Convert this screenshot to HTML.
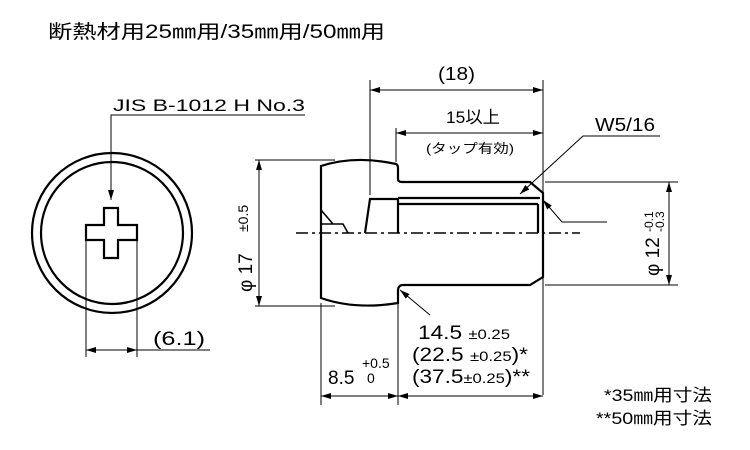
<!DOCTYPE html>
<html><head><meta charset="utf-8"><style>
body{margin:0;background:#fff;width:750px;height:450px;overflow:hidden}
svg{display:block}
text{font-family:"Liberation Sans","Noto Sans CJK JP",sans-serif;fill:#000}
</style></head><body>
<svg width="750" height="450" viewBox="0 0 750 450" xmlns="http://www.w3.org/2000/svg">
<defs>
<marker id="a" viewBox="0 0 10 6" refX="10" refY="3" markerWidth="10" markerHeight="6" orient="auto-start-reverse" markerUnits="userSpaceOnUse"><path d="M0,0L10,3L0,6z"/></marker>
</defs>
<text x="48" y="38" font-size="19" textLength="337" lengthAdjust="spacingAndGlyphs">断熱材用25㎜用/35㎜用/50㎜用</text>
<g fill="none" stroke="#000">
<circle cx="112" cy="233" r="80" stroke-width="2.2"/>
<circle cx="112" cy="233" r="71" stroke-width="2.2"/>
<path d="M104,208H118V225H137V240H118V258H104V240H86V225H104Z" stroke-width="2.2"/>
<path d="M305,115H111V200" stroke-width="1" marker-end="url(#a)"/>
<path d="M86,240V357M137,240V357" stroke-width="1"/>
<path d="M86,350H137" stroke-width="1" marker-start="url(#a)" marker-end="url(#a)"/>
<path d="M137,350H210" stroke-width="1"/>
</g>
<text x="113" y="111" font-size="17" textLength="192" lengthAdjust="spacingAndGlyphs">JIS B-1012 H No.3</text>
<text x="153" y="345" font-size="19" textLength="52" lengthAdjust="spacingAndGlyphs">(6.1)</text>
<g fill="none" stroke="#000" stroke-width="2.2">
<path d="M321,166Q355,155 396,164Q398,165 398,168V179Q398,182 402,182H530L543,193V277L530,285H402Q398,286 398,290V303Q355,310 321,298Z"/>
<path d="M398,198H540M398,204H538M398,198V233M538,204V233M365,233L370,199H398"/>
<path d="M321,210L333,224H343L348,233M321,224H333" stroke-width="1.6"/>
</g>
<path d="M296,233H580" stroke="#000" stroke-width="1.5" stroke-dasharray="12,4,3,4"/>
<g fill="none" stroke="#000" stroke-width="1">
<path d="M255,160H335M255,306H335"/>
<path d="M259,160V306" marker-start="url(#a)" marker-end="url(#a)"/>
<path d="M545,182H678M545,285H678"/>
<path d="M669,182V285" marker-start="url(#a)" marker-end="url(#a)"/>
<path d="M370,80V195M396,128V162M543,80V395M321,303V405M398,292V405"/>
<path d="M370,90H543" marker-start="url(#a)" marker-end="url(#a)"/>
<path d="M396,133H543" marker-start="url(#a)" marker-end="url(#a)"/>
<path d="M321,396H398" marker-start="url(#a)" marker-end="url(#a)"/>
<path d="M398,396H543" marker-start="url(#a)" marker-end="url(#a)"/>
<path d="M660,136H583L520,194" marker-end="url(#a)"/>
<path d="M607,222H562L543,200" marker-end="url(#a)"/>
<path d="M430,315L400,290" marker-end="url(#a)"/>
</g>
<text x="438" y="80" font-size="18" textLength="37" lengthAdjust="spacingAndGlyphs">(18)</text>
<text x="446" y="123" font-size="17" textLength="54" lengthAdjust="spacingAndGlyphs">15以上</text>
<text x="426" y="153" font-size="13" textLength="88" lengthAdjust="spacingAndGlyphs">(タップ有効)</text>
<text x="595" y="131" font-size="18" textLength="60" lengthAdjust="spacingAndGlyphs">W5/16</text>
<text transform="translate(252,292) rotate(-90)" font-size="19">φ 17</text>
<text transform="translate(248,232) rotate(-90)" font-size="14">±0.5</text>
<text transform="translate(659,276) rotate(-90)" font-size="19">φ 12</text>
<text transform="translate(653,232) rotate(-90)" font-size="12">-0.1</text>
<text transform="translate(664,232) rotate(-90)" font-size="12">-0.3</text>
<text x="328" y="384" font-size="19">8.5</text>
<text x="362" y="368" font-size="14">+0.5</text>
<text x="367" y="383" font-size="14">0</text>
<text x="418" y="339" font-size="19" textLength="92" lengthAdjust="spacingAndGlyphs">14.5 <tspan font-size="14">±0.25</tspan></text>
<text x="412" y="361" font-size="19" textLength="116" lengthAdjust="spacingAndGlyphs">(22.5 <tspan font-size="14">±0.25</tspan>)*</text>
<text x="412" y="383" font-size="19" textLength="118" lengthAdjust="spacingAndGlyphs">(37.5<tspan font-size="14">±0.25</tspan>)**</text>
<text x="604" y="401" font-size="17" textLength="108" lengthAdjust="spacingAndGlyphs">*35㎜用寸法</text>
<text x="596" y="424" font-size="17" textLength="116" lengthAdjust="spacingAndGlyphs">**50㎜用寸法</text>
</svg>
</body></html>
